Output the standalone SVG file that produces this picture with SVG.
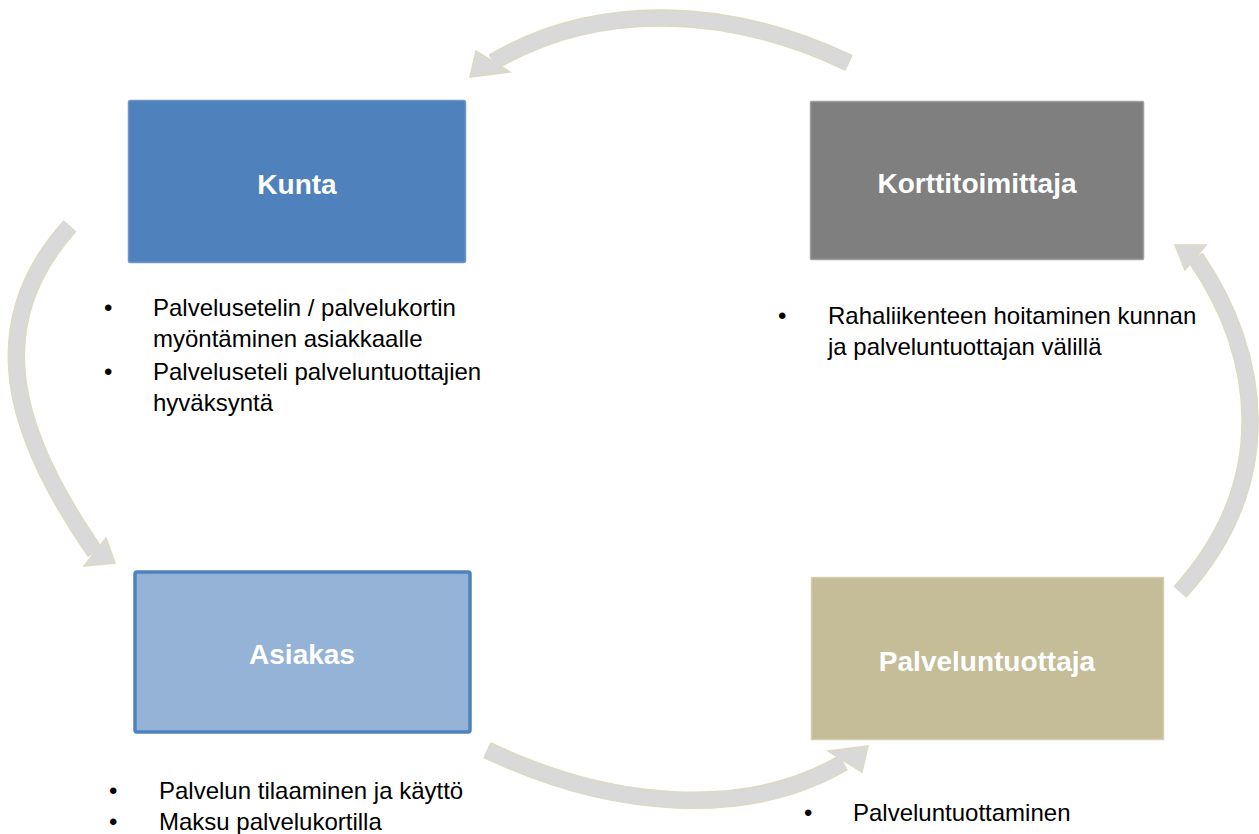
<svg xmlns="http://www.w3.org/2000/svg" width="1259" height="834" viewBox="0 0 1259 834">
  <style>
    .label { font-family: "Liberation Sans", Arial, sans-serif; font-weight: bold; font-size: 28px; fill: #ffffff; text-anchor: middle; }
    .body { font-family: "Liberation Sans", Arial, sans-serif; font-size: 24px; fill: #000000; }
    .shaft-edge { fill: none; stroke: #DDD9C3; stroke-width: 17.5; stroke-linecap: butt; }
    .shaft { fill: none; stroke: #D9D9D9; stroke-width: 14.5; stroke-linecap: butt; }
    .head { fill: #D9D9D9; stroke: #DDD9C3; stroke-width: 1.5; stroke-linejoin: miter; }
  </style>
  <rect width="1259" height="834" fill="#ffffff"/>

  <!-- curved cycle arrows -->
  <g id="connectors">
    <!-- Korttitoimittaja to Kunta (top) -->
    <g id="arrow-top">
      <path class="shaft-edge" d="M849,63 C728.8,5.6 597.1,0.7 493,62"/>
      <polygon class="head" points="470,77 476,51 510,72"/>
      <path class="shaft" d="M849,63 C728.8,5.6 597.1,0.7 493,62"/>
    </g>
    <!-- Kunta to Asiakas (left) -->
    <g id="arrow-left">
      <path class="shaft-edge" d="M70,226 C-19.9,325.3 13,434 95,552"/>
      <polygon class="head" points="115,563 106,538 84,566"/>
      <path class="shaft" d="M70,226 C-19.9,325.3 13,434 95,552"/>
    </g>
    <!-- Asiakas to Palveluntuottaja (bottom) -->
    <g id="arrow-bottom">
      <path class="shaft-edge" d="M487,750 C613.7,810.5 748.4,818.5 843.5,762.5"/>
      <polygon class="head" points="868,746 862,772 828,751"/>
      <path class="shaft" d="M487,750 C613.7,810.5 748.4,818.5 843.5,762.5"/>
    </g>
    <!-- Palveluntuottaja to Korttitoimittaja (right) -->
    <g id="arrow-right">
      <path class="shaft-edge" d="M1180,592 C1279.6,482 1262.1,354.6 1195.5,257.5"/>
      <polygon class="head" points="1175,245 1206,245 1185,270"/>
      <path class="shaft" d="M1180,592 C1279.6,482 1262.1,354.6 1195.5,257.5"/>
    </g>
  </g>

  <g id="kunta">
    <rect x="128.5" y="100.5" width="337" height="162" rx="2" fill="#4F81BD" stroke="#6F97C8" stroke-width="1.5"/>
    <text class="label" x="297" y="194">Kunta</text>
  </g>

  <g id="korttitoimittaja">
    <rect x="810.5" y="101.5" width="333" height="158" rx="1" fill="#7F7F7F" stroke="#A0A0A0" stroke-width="1.5"/>
    <text class="label" x="977" y="193">Korttitoimittaja</text>
  </g>

  <g id="asiakas">
    <rect x="135" y="572" width="335" height="160" rx="2" fill="#95B3D7" stroke="#4F81BD" stroke-width="3.5"/>
    <text class="label" x="302" y="664">Asiakas</text>
  </g>

  <g id="palveluntuottaja">
    <rect x="811.5" y="577.5" width="352" height="162" fill="#C4BD97" stroke="#D5CFB0" stroke-width="1.5"/>
    <text class="label" x="987" y="671">Palveluntuottaja</text>
  </g>

  <!-- bullet notes -->
  <g id="notes-kunta" class="body">
    <text x="104" y="316">•</text>
    <text x="153" y="316">Palvelusetelin / palvelukortin</text>
    <text x="153" y="347">myöntäminen asiakkaalle</text>
    <text x="104" y="380">•</text>
    <text x="153" y="380">Palveluseteli palveluntuottajien</text>
    <text x="153" y="411">hyväksyntä</text>
  </g>

  <g id="notes-korttitoimittaja" class="body">
    <text x="778" y="324">•</text>
    <text x="828" y="324">Rahaliikenteen hoitaminen kunnan</text>
    <text x="828" y="355">ja palveluntuottajan välillä</text>
  </g>

  <g id="notes-asiakas" class="body">
    <text x="109" y="799">•</text>
    <text x="159" y="799">Palvelun tilaaminen ja käyttö</text>
    <text x="109" y="830">•</text>
    <text x="159" y="830">Maksu palvelukortilla</text>
  </g>

  <g id="notes-palveluntuottaja" class="body">
    <text x="804" y="821">•</text>
    <text x="853" y="821">Palveluntuottaminen</text>
  </g>
</svg>
